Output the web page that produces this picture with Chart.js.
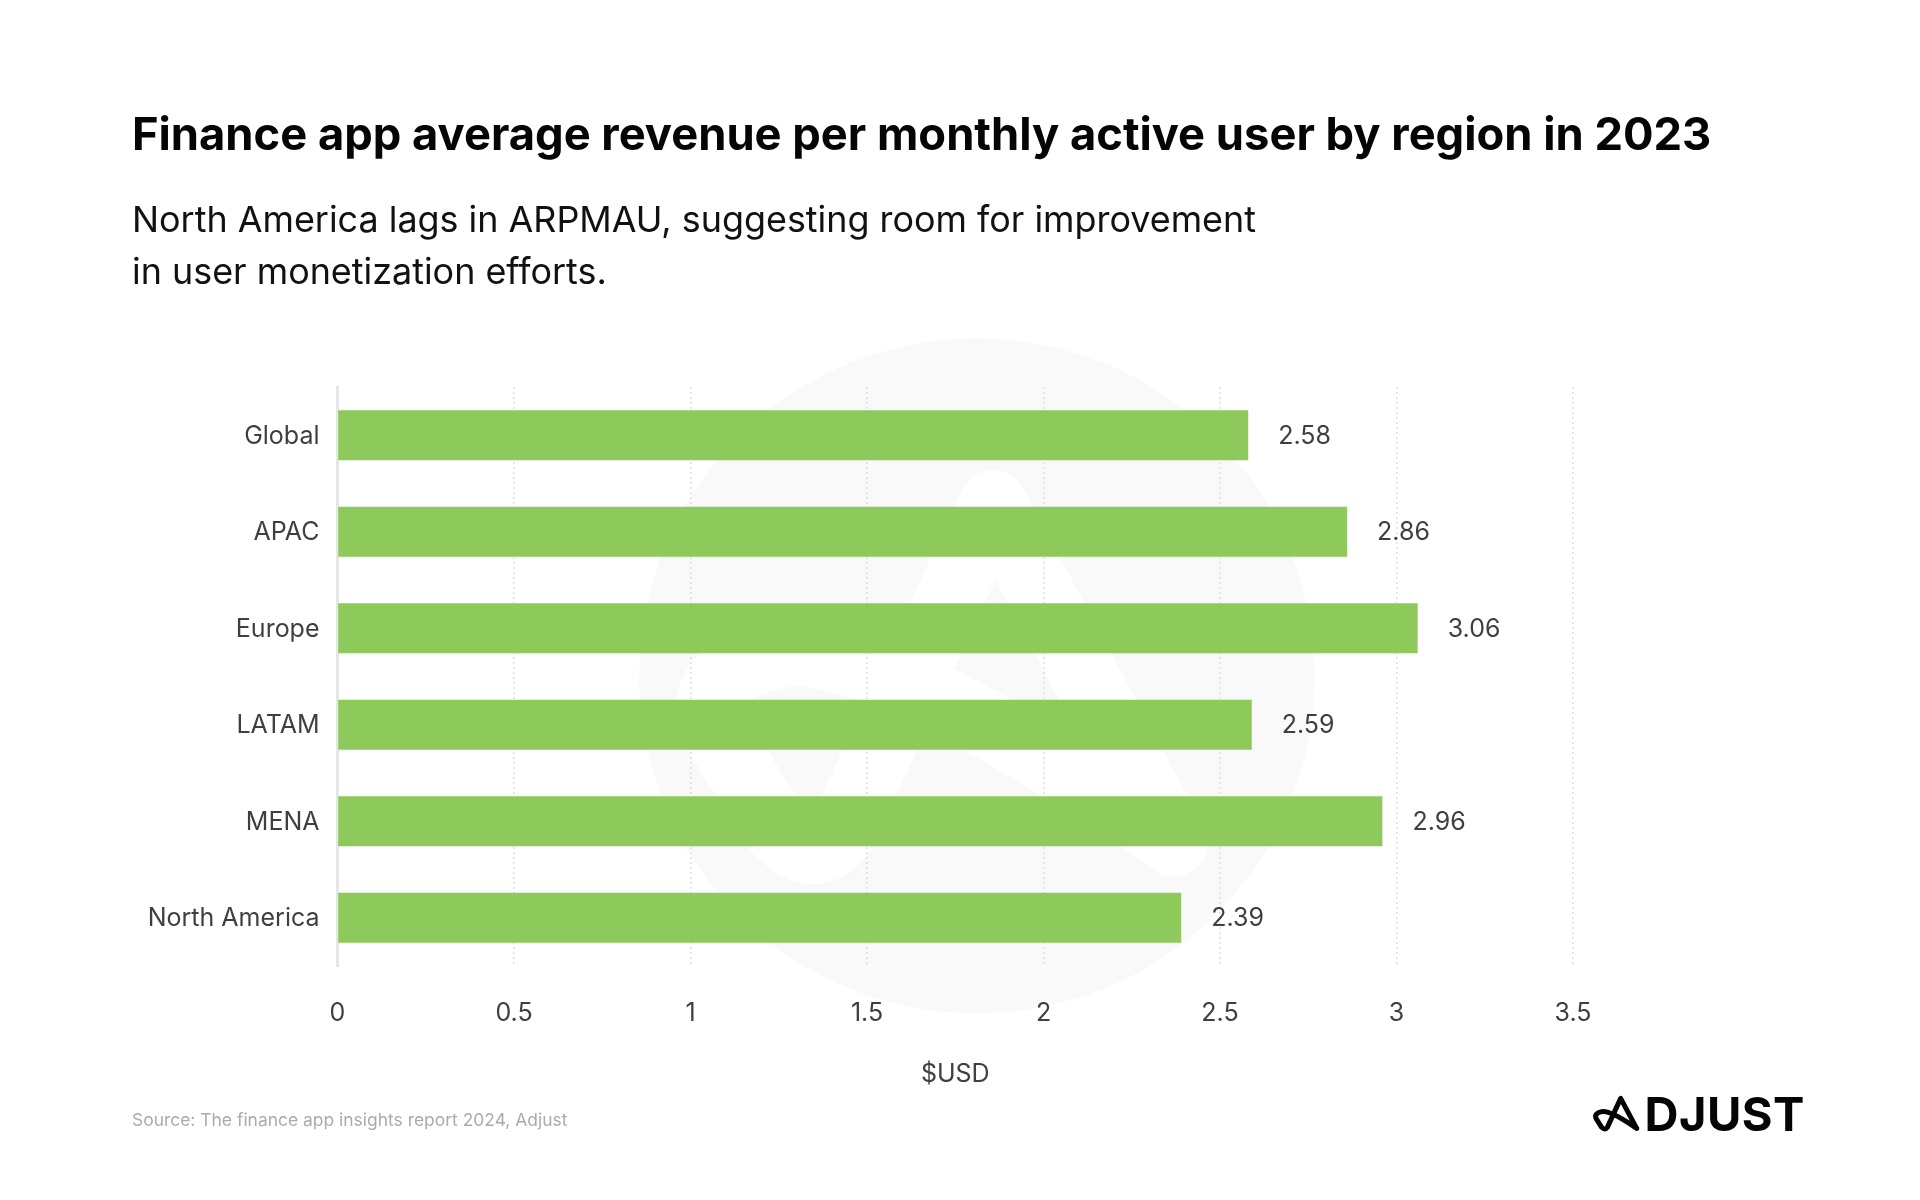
<!DOCTYPE html>
<html>
<head>
<meta charset="utf-8">
<title>Finance app ARPMAU by region</title>
<script src="https://cdn.jsdelivr.net/npm/chart.js@4"></script>
<style>
  html, body { margin: 0; padding: 0; background: #fff; }
  body { width: 1920px; height: 1200px; position: relative; overflow: hidden; font-family: Inter, sans-serif; }
  #watermark { position: absolute; left: 620px; top: 320px; width: 720px; height: 720px; }
  #chart-box { position: absolute; left: 0; top: 0; width: 1920px; height: 1200px; }
  h1 { position: absolute; left: 132px; top: 106px; margin: 0; font-size: 45.3px; line-height: 56px; font-weight: 700; color: #050505; white-space: nowrap; }
  #subtitle { position: absolute; left: 132px; top: 193px; margin: 0; font-size: 35.9px; line-height: 52px; color: #111; white-space: nowrap; }
  #source { position: absolute; left: 132px; top: 1108px; font-size: 17.45px; line-height: 24px; color: #a9abad; white-space: nowrap; }
  #logo-mark { position: absolute; left: 1590px; top: 1090px; width: 240px; height: 60px; }
  #logo-text { position: absolute; right: 115px; top: 1087px; font-size: 47px; line-height: 54px; font-weight: 700; letter-spacing: 0.5px; color: #050505; white-space: nowrap; }
  #logo-text span { color: transparent; }
</style>
</head>
<body>
<svg id="watermark" viewBox="0 0 1568 1568">
  <circle cx="777" cy="775" r="735" fill="#f9f9f9"/>
  <g transform="translate(58 195) scale(8.2)">
    <path d="M140 115 L92 25 L52 112 Q45 122 35 112 L18 85 Q12 70 35 65 Q60 60 140 115" fill="none" stroke="#fff" stroke-width="18" stroke-linejoin="round" stroke-linecap="round"/>
  </g>
</svg>
<div id="chart-box"><canvas id="arpmau-chart"></canvas></div>
<h1>Finance app average revenue per monthly active user by region in 2023</h1>
<p id="subtitle">North America lags in ARPMAU, suggesting room for improvement<br>in user monetization efforts.</p>
<div id="source">Source: The finance app insights report 2024, Adjust</div>
<div id="logo-text"><span>A</span>DJUST</div>
<svg id="logo-mark" viewBox="0 0 720 180">
  <path d="M140 115 L92 25 L52 112 Q45 122 35 112 L18 85 Q12 70 35 65 Q60 60 140 115" fill="none" stroke="#050505" stroke-width="15" stroke-linejoin="round" stroke-linecap="round"/>
</svg>
<script>
// Data
const regions = ['Global', 'APAC', 'Europe', 'LATAM', 'MENA', 'North America'];
const arpmauValues = [2.58, 2.86, 3.06, 2.59, 2.96, 2.39];
const xTickLabels = ['0', '0.5', '1', '1.5', '2', '2.5', '3', '3.5'];
const xAxisTitle = '$USD';

const textColor = '#3d3f42';
const barColor = '#8ec95c';
const gridColor = '#dcdfe0';
const axisColor = '#e4e6e7';

// Value labels to the right of each bar
const valueLabels = {
    id: 'valueLabels',
    afterDatasetsDraw(chart) {
        const { ctx } = chart;
        ctx.save();
        ctx.font = '25px Inter';
        ctx.fillStyle = textColor;
        ctx.textBaseline = 'middle';
        chart.getDatasetMeta(0).data.forEach((bar, i) => {
            ctx.fillText(arpmauValues[i].toFixed(2), bar.x + 30, bar.y + 1);
        });
        ctx.restore();
    }
};

new Chart(document.getElementById('arpmau-chart'), {
    type: 'bar',
    data: {
        labels: regions,
        datasets: [{
            data: arpmauValues,
            backgroundColor: barColor,
            categoryPercentage: 1,
            barPercentage: 0.52
        }]
    },
    plugins: [valueLabels],
    options: {
        indexAxis: 'y',
        responsive: true,
        maintainAspectRatio: false,
        animation: false,
        devicePixelRatio: 1,
        layout: { padding: { top: 387, right: 347, bottom: 107, left: 0 } },
        plugins: { legend: { display: false }, tooltip: { enabled: false } },
        scales: {
            x: {
                min: 0,
                max: 3.5,
                afterFit: (scale) => { scale.height = 127; },
                ticks: {
                    stepSize: 0.5,
                    autoSkip: false,
                    maxRotation: 0,
                    padding: 32,
                    color: textColor,
                    font: { family: 'Inter', size: 25 },
                    callback: (value, index) => xTickLabels[index]
                },
                grid: { color: gridColor, lineWidth: 1.5, drawTicks: false },
                border: { display: false, dash: [2, 3] },
                title: {
                    display: true,
                    text: xAxisTitle,
                    color: textColor,
                    font: { family: 'Inter', size: 25 }
                }
            },
            y: {
                afterFit: (scale) => { scale.width = 337.5; },
                ticks: {
                    padding: 18,
                    labelOffset: 1,
                    color: textColor,
                    font: { family: 'Inter', size: 25 }
                },
                grid: { display: false, drawTicks: false },
                border: { display: true, color: axisColor, width: 3 }
            }
        }
    }
});
</script>
</body>
</html>
